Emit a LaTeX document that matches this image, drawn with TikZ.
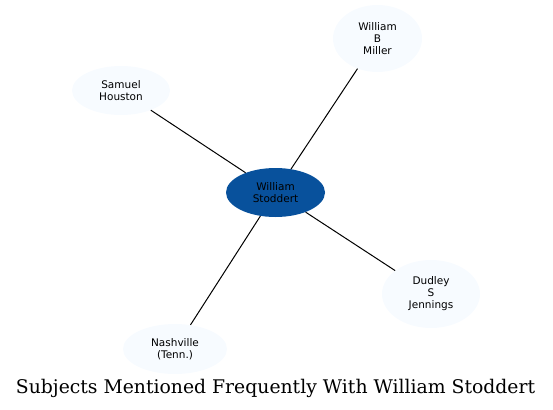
\documentclass[tikz,border=0pt]{standalone}
\usepackage{fontspec}
\setmainfont{DejaVu Serif}
\newfontfamily\nodefont{DejaVu Sans}
\usetikzlibrary{shapes.geometric}
\definecolor{leafblue}{HTML}{F7FBFF}
\definecolor{hubblue}{HTML}{08519C}
\tikzset{
  leaf/.style={ellipse, draw=none, fill=leafblue, inner sep=0pt, align=center,
    font=\nodefont\fontsize{10.5}{12}\selectfont},
  hub/.style={ellipse, draw=none, fill=hubblue, inner sep=0pt, align=center,
    font=\nodefont\fontsize{10.5}{12}\selectfont},
  link/.style={draw=black, line width=1pt}
}
\begin{document}
\begin{tikzpicture}[x=1pt,y=-1pt]
\useasboundingbox (0,0) rectangle (553,409);
\node[hub, minimum width=99pt, minimum height=49pt] (c) at (275.5,192.5) {William\\Stoddert};
\node[leaf, minimum width=89pt, minimum height=67pt] (m) at (377.5,38.5) {William\\B\\Miller};
\node[leaf, minimum width=98pt, minimum height=49pt] (h) at (121,90.5) {Samuel\\Houston};
\node[leaf, minimum width=98pt, minimum height=68pt] (d) at (431,294) {Dudley\\S\\Jennings};
\node[leaf, minimum width=104pt, minimum height=50pt] (n) at (175,349) {Nashville\\(Tenn.)};
\draw[link] (c) -- (m);
\draw[link] (c) -- (h);
\draw[link] (c) -- (d);
\draw[link] (c) -- (n);
\node[font=\fontsize{18.8}{20}\selectfont, anchor=base, inner sep=0pt] (t) at (275.5,393) {Subjects Mentioned Frequently With William Stoddert};
\end{tikzpicture}
\end{document}
